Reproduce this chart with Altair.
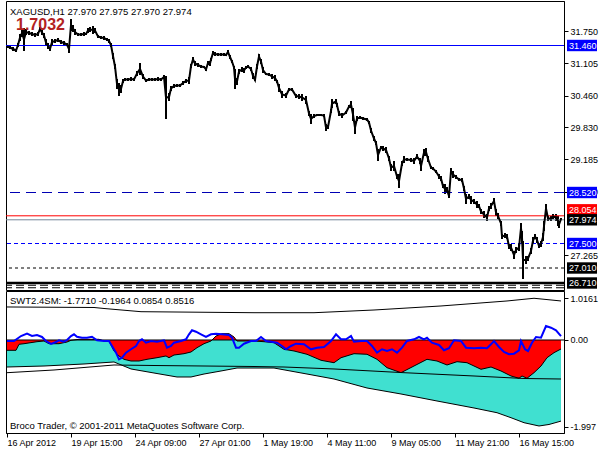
import altair as alt
import pandas as pd

FONT = "Liberation Sans"

# ---------------- price pane (XAGUSD H1, sampled bars) ----------------
bar = [3,6,9,12,14,16,18,20,22,25,28,31,34,36,38,40,42,44,46,48,51,54,57,60,63,65,67,69,71,74,77,80,82,84,86,89,91,94,97,100,
       103,105,107,109,111,113,115,117,119,121,124,127,130,133,136,139,142,145,148,151,154,157,160,162,165,167,170,173,176,179,
       182,185,187,189,191,194,197,200,202,204,206,207,209,211,214,217,220,222,224,226,228,230,231,233,235,238,240,242,244,247,
       249,251,253,255,257,259,262,265,268,271,273,275,278,282,285,288,292,295,298,302,305,307,310,313,317,320,322,324,327,328,
       332,333,335,338,342,345,347,349,351,353,356,359,363,365,367,370,372,374,377,379,382,385,387,390,393,395,398,400,403,407,
       410,413,416,417,420,422,424,427,429,432,435,437,439,441,443,445,447,449,452,455,458,460,462,465,467,470,473,475,477,480,
       483,485,487,490,492,494,497,498,501,503,505,507,510,512,515,517,518,519,522,524,527,529,531,533,535,537,539,540,542,544,
       547,549,552,554,555,557]
high = [31.47,31.45,31.43,31.39,31.51,31.69,31.79,31.81,31.79,31.75,31.73,31.71,31.73,31.83,31.77,31.71,31.59,31.51,31.43,31.59,
        31.59,31.61,31.57,31.55,31.51,31.47,31.99,31.87,31.79,31.71,31.71,31.73,31.71,31.81,31.83,31.85,31.81,31.67,31.65,31.65,
        31.61,31.59,31.51,31.31,31.09,30.79,30.71,30.67,30.79,30.81,30.81,30.83,30.81,30.95,31.11,30.89,30.79,30.81,30.81,30.81,
        30.83,30.81,30.87,30.85,30.51,30.65,30.69,30.69,30.69,30.75,30.79,30.83,31.09,31.23,31.15,31.11,31.07,31.05,31.01,31.15,
        31.15,31.21,31.35,31.33,31.31,31.31,31.31,31.29,31.37,31.27,31.17,31.05,30.99,30.81,30.99,31.03,31.01,31.05,31.07,31.03,
        30.91,30.79,31.09,31.29,31.19,31.03,30.91,30.91,30.89,30.87,30.77,30.69,30.55,30.51,30.61,30.61,30.49,30.49,30.49,30.45,
        30.15,30.09,30.09,30.09,30.09,30.09,29.89,29.87,30.19,30.39,30.39,30.31,30.15,30.11,30.15,30.27,30.35,30.21,29.95,30.05,
        30.05,30.03,30.01,29.95,29.81,29.65,29.55,29.39,29.45,29.45,29.43,29.25,29.09,29.15,28.89,28.89,29.15,29.25,29.21,29.21,
        29.21,29.29,29.21,29.15,29.39,29.41,29.25,29.05,29.03,28.97,28.89,28.85,28.69,28.69,28.63,28.49,29.01,28.95,28.87,28.81,
        28.81,28.65,28.49,28.49,28.45,28.39,28.35,28.29,28.19,28.15,28.09,28.25,28.31,28.41,28.19,28.11,27.95,27.69,27.71,27.69,
        27.49,27.49,27.35,27.43,27.49,27.91,27.75,27.55,27.25,27.25,27.41,27.63,27.69,27.63,27.49,27.55,27.71,27.95,28.29,28.05,
        28.05,28.09,28.09,28.05,27.95,28.01]
low = [31.41,31.39,31.35,31.33,31.43,31.55,31.63,31.35,31.67,31.67,31.65,31.63,31.65,31.75,31.67,31.61,31.45,31.39,31.35,31.47,
       31.51,31.53,31.49,31.47,31.45,31.31,31.75,31.73,31.67,31.65,31.65,31.65,31.67,31.71,31.73,31.69,31.71,31.61,31.59,31.57,
       31.55,31.51,31.43,31.19,30.99,30.59,30.45,30.51,30.71,30.75,30.75,30.75,30.75,30.85,30.87,30.79,30.73,30.75,30.75,30.75,
       30.75,30.75,30.79,29.99,30.35,30.55,30.61,30.63,30.63,30.67,30.71,30.69,31.01,31.13,31.05,31.03,31.01,31.01,30.95,31.07,
       31.05,31.15,31.27,31.25,31.25,31.25,31.25,31.25,31.29,31.19,31.11,30.99,30.59,30.67,30.89,30.93,30.91,30.99,31.01,30.95,
       30.79,30.75,30.99,31.19,31.09,30.91,30.87,30.85,30.79,30.75,30.71,30.53,30.41,30.41,30.55,30.55,30.41,30.39,30.35,30.29,
       30.05,29.89,30.01,30.05,30.05,30.03,29.75,29.79,30.11,30.21,30.29,30.23,30.05,30.01,30.09,30.21,30.21,29.95,29.69,29.95,
       29.99,29.97,29.95,29.89,29.71,29.55,29.47,29.15,29.39,29.35,29.31,29.15,28.95,28.95,28.79,28.61,29.05,29.11,29.15,29.13,
       29.09,29.19,29.09,28.95,29.25,29.25,29.13,28.99,28.97,28.91,28.79,28.75,28.61,28.49,28.51,28.41,28.89,28.81,28.79,28.75,
       28.73,28.55,28.29,28.39,28.29,28.29,28.21,28.21,28.09,28.01,27.95,28.15,28.19,28.29,28.05,27.99,27.85,27.59,27.61,27.59,
       27.39,27.35,27.19,27.31,27.35,27.71,27.49,26.79,27.09,27.15,27.29,27.49,27.59,27.51,27.41,27.43,27.55,27.75,28.11,27.95,
       27.95,27.99,27.95,27.85,27.81,27.97]

level_values = [31.460, 28.520, 28.054, 27.974, 27.500, 27.010, 26.710, 26.665, 26.615]
labelled_levels = [31.460, 28.520, 28.054, 27.974, 27.500, 27.010, 26.710]
price_ticks = [31.750, 31.105, 30.460, 29.830, 29.185, 28.540, 27.265]

header_text = "XAGUSD,H1  27.970 27.975 27.970 27.974"
value_text = "1.7032"

# ---------------- oscillator pane (SWT2.4SM) ----------------
blue_x = [3,10,17,23,28,33,38,42,47,52,55,60,63,67,70,73,78,83,88,93,100,105,108,112,115,118,122,127,132,135,138,142,147,153,
          160,163,167,170,177,182,185,188,192,197,202,207,212,218,225,228,232,235,240,247,252,257,262,267,273,278,282,287,292,
          300,307,313,320,327,332,337,342,347,350,357,363,368,373,378,383,388,393,398,403,410,415,420,423,428,435,440,445,450,
          457,462,470,477,483,487,490,495,500,505,510,515,517,521,524,528,532,537,542,547,552,557]
blue_v = [-0.022,-0.022,0.087,0.138,0.087,0.109,0.066,-0.022,-0.087,-0.044,-0.007,-0.037,0.0,0.087,0.124,0.072,0.05,0.05,0.072,
          -0.007,-0.022,-0.022,-0.131,-0.277,-0.422,-0.387,-0.277,-0.203,-0.131,-0.022,0.015,-0.059,-0.022,-0.037,-0.007,-0.168,
          -0.131,-0.059,-0.022,0.015,0.124,0.212,0.181,0.124,0.066,0.124,0.138,0.124,0.109,0.05,-0.168,-0.168,-0.081,-0.022,
          -0.022,0.066,-0.022,-0.037,-0.059,-0.131,-0.203,-0.131,-0.081,-0.094,-0.203,-0.168,-0.153,-0.022,0.124,0.015,0.015,
          0.087,-0.037,-0.022,-0.022,-0.131,-0.277,-0.203,-0.24,-0.203,-0.277,-0.168,-0.022,0.015,0.066,0.015,0.05,-0.059,
          -0.109,-0.225,-0.181,-0.007,-0.022,-0.168,-0.181,-0.168,-0.181,-0.094,-0.022,-0.153,-0.262,-0.312,-0.299,-0.225,
          -0.022,-0.203,-0.24,-0.059,0.066,0.05,0.306,0.269,0.212,0.085]
red_x = [3,12,15,20,33,40,45,55,63,67,75,85,95,100,105,110,115,120,127,135,143,153,162,165,170,180,187,193,200,207,212,218,
         225,230,233,240,250,260,270,280,290,303,317,330,337,350,363,373,383,397,410,423,433,443,453,463,477,487,497,507,515,
         518,523,530,537,543,550,557]
red_v = [-0.225,-0.225,-0.094,-0.081,-0.037,-0.022,-0.081,-0.081,-0.044,-0.007,0.015,0.015,0.015,-0.022,-0.022,-0.24,-0.349,
         -0.422,-0.459,-0.459,-0.422,-0.387,-0.349,-0.387,-0.328,-0.299,-0.262,-0.168,-0.081,-0.022,0.087,0.138,0.138,0.066,
         -0.022,-0.022,-0.022,-0.037,-0.059,-0.203,-0.24,-0.312,-0.443,-0.496,-0.387,-0.299,-0.312,-0.422,-0.605,-0.714,-0.568,
         -0.422,-0.459,-0.546,-0.474,-0.496,-0.64,-0.59,-0.677,-0.786,-0.836,-0.786,-0.836,-0.714,-0.568,-0.387,-0.277,-0.196]
turq_x = [3,40,80,110,127,150,173,187,200,217,233,270,303,330,363,397,433,470,493,507,520,535,545,557]
turq_v = [-0.59,-0.568,-0.524,-0.48,-0.633,-0.721,-0.808,-0.808,-0.743,-0.677,-0.612,-0.612,-0.743,-0.852,-1.048,-1.179,
          -1.332,-1.485,-1.588,-1.697,-1.806,-1.878,-1.845,-1.771]
mid_x = [3,50,110,150,200,250,280,330,400,470,520,557]
mid_v = [-0.714,-0.655,-0.546,-0.557,-0.568,-0.579,-0.59,-0.633,-0.714,-0.786,-0.841,-0.852]
up_x = [3,90,100,137,250,310,370,437,503,530,557]
up_v = [0.721,0.71,0.688,0.618,0.596,0.596,0.655,0.743,0.852,0.911,0.852]

osc_ticks = [0.917, 0.0, -1.894]
osc_tick_labels = ["1.0161", "0.00", "-1.997"]
osc_text = "SWT2.4SM:  -1.7710 -0.1964 0.0854 0.8516"
copyright_text = "Broco Trader, \u00a9 2001-2011 MetaQuotes Software Corp."

time_ticks = [3, 67, 131, 195, 259, 323, 387, 451, 515]
time_labels = ["16 Apr 2012", "19 Apr 15:00", "24 Apr 09:00", "27 Apr 01:00", "1 May 19:00",
               "4 May 11:00", "9 May 05:00", "11 May 21:00", "16 May 15:00"]

# ---------------- styles ----------------
W, H1, H2 = 558, 289, 142
xs = alt.Scale(domain=[2, 560], nice=False, zero=False)
ys_price = alt.Scale(domain=[26.57, 32.35], nice=False, zero=False)
ys_osc = alt.Scale(domain=[-2.031, 1.07], nice=False, zero=False)

level_styles = [
    dict(color="#0000FF", width=1, dash=None),
    dict(color="#0000B4", width=1, dash=[10, 6]),
    dict(color="#FF0000", width=1, dash=None),
    dict(color="#778899", width=1, dash=None),
    dict(color="#0000FF", width=1, dash=[4, 3]),
    dict(color="#000000", width=1, dash=[3, 3]),
    dict(color="#000000", width=2.5, dash=None),
    dict(color="#000000", width=1, dash=[8, 4]),
    dict(color="#000000", width=1, dash=[8, 4]),
]
label_bg = ["#0000FF", "#0000FF", "#FF0000", "#000000", "#0000FF", "#000000", "#000000"]
label_shift = [0, 0, -6, 0, 0, 0, 0]
BOX = "M-1,-0.38L1,-0.38L1,0.38L-1,0.38Z"


def js_list(items):
    return "[" + ",".join(repr(i) for i in items) + "]"


price_axis = alt.Axis(orient="right", values=price_ticks, format=".3f", title=None,
                      tickSize=4, labelPadding=2, grid=False, labelOverlap=False)


def py(field):
    return alt.Y(field, scale=ys_price, title=None, axis=price_axis)


def px(field):
    return alt.X(field, scale=xs, title=None, axis=None)


# ---------------- price chart ----------------
price_df = pd.DataFrame({"bar": bar, "high": high, "low": low})

bars_layer = alt.Chart(price_df).mark_rule(color="black", strokeWidth=2).encode(
    x=px("bar:Q"), y=py("low:Q"), y2="high:Q",
)
close_layer = alt.Chart(price_df).transform_calculate(
    mid="(datum.high + datum.low) / 2"
).mark_line(color="black", strokeWidth=2).encode(
    x=px("bar:Q"), y=py("mid:Q"),
)

price_layers = [bars_layer]
for val, st in zip(level_values, level_styles):
    kw = dict(color=st["color"], strokeWidth=st["width"])
    if st["dash"]:
        kw["strokeDash"] = st["dash"]
    price_layers.append(
        alt.Chart(pd.DataFrame({"v": [val]})).mark_rule(**kw).encode(y=py("v:Q"))
    )
price_layers.append(close_layer)

for val, bg, sh in zip(labelled_levels, label_bg, label_shift):
    d = pd.DataFrame({"v": [val]})
    price_layers.append(
        alt.Chart(d).mark_point(shape=BOX, size=900, filled=True, opacity=1,
                                color=bg, strokeWidth=0, yOffset=sh).encode(
            x=alt.value(576), y=py("v:Q")
        )
    )
    price_layers.append(
        alt.Chart(d).mark_text(align="left", baseline="middle", color="white",
                               font=FONT, fontSize=9, yOffset=sh).encode(
            x=alt.value(563), y=py("v:Q"),
            text=alt.Text("v:Q", format=".3f"),
        )
    )

price_layers.append(
    alt.Chart(pd.DataFrame({"t": [header_text]})).mark_text(
        align="left", baseline="middle", font=FONT, fontSize=9.5, color="black"
    ).encode(x=alt.value(4), y=alt.value(11), text="t:N")
)
price_layers.append(
    alt.Chart(pd.DataFrame({"t": [value_text]})).mark_text(
        align="left", baseline="middle", font=FONT, fontSize=16, fontWeight="bold", color="#B22222"
    ).encode(x=alt.value(10), y=alt.value(24), text="t:N")
)

price_chart = alt.layer(*price_layers).properties(width=W, height=H1)

# ---------------- oscillator chart ----------------
x_label_expr = js_list(time_labels) + "[indexof(" + js_list(time_ticks) + ", datum.value)]"
y_label_expr = js_list(osc_tick_labels) + "[indexof(" + js_list(osc_ticks) + ", datum.value)]"

time_axis = alt.Axis(values=time_ticks, labelExpr=x_label_expr, title=None, labelAlign="left",
                     labelBaseline="top", labelPadding=1, tickSize=4, labelFlush=False,
                     labelOverlap=False, grid=False)
osc_axis = alt.Axis(orient="right", values=osc_ticks, labelExpr=y_label_expr, title=None,
                    tickSize=4, labelPadding=2, grid=False, labelOverlap=False)

turq_df = pd.DataFrame({"x": turq_x, "v": turq_v})
red_df = pd.DataFrame({"x": red_x, "v": red_v})
blue_df = pd.DataFrame({"x": blue_x, "v": blue_v})
mid_df = pd.DataFrame({"x": mid_x, "v": mid_v})
up_df = pd.DataFrame({"x": up_x, "v": up_v})


def ox():
    return alt.X("x:Q", scale=xs, title=None, axis=time_axis)


def oy():
    return alt.Y("v:Q", scale=ys_osc, title=None, axis=osc_axis)


turq_area = alt.Chart(turq_df).mark_area(color="#40E0D0", opacity=1).encode(
    x=ox(), y=oy(), y2=alt.Y2Datum(0)
)
red_area = alt.Chart(red_df).mark_area(color="#FF0000", opacity=1).encode(
    x=ox(), y=oy(), y2=alt.Y2Datum(0)
)
turq_edge = alt.Chart(turq_df).mark_line(color="black", strokeWidth=1).encode(x=ox(), y=oy())
red_edge = alt.Chart(red_df).mark_line(color="black", strokeWidth=1).encode(x=ox(), y=oy())
zero_rule = alt.Chart(pd.DataFrame({"v": [0.0]})).mark_rule(color="black", strokeWidth=1).encode(y=oy())
mid_line = alt.Chart(mid_df).mark_line(color="black", strokeWidth=1).encode(x=ox(), y=oy())
up_line = alt.Chart(up_df).mark_line(color="black", strokeWidth=1).encode(x=ox(), y=oy())
blue_line = alt.Chart(blue_df).mark_line(color="#0000FF", strokeWidth=2).encode(x=ox(), y=oy())

osc_label = alt.Chart(pd.DataFrame({"t": [osc_text]})).mark_text(
    align="left", baseline="middle", font=FONT, fontSize=9.5, color="black"
).encode(x=alt.value(4), y=alt.value(10), text="t:N")
copy_label = alt.Chart(pd.DataFrame({"t": [copyright_text]})).mark_text(
    align="left", baseline="middle", font=FONT, fontSize=9.5, color="black"
).encode(x=alt.value(4), y=alt.value(134.5), text="t:N")

osc_chart = alt.layer(
    turq_area, red_area, turq_edge, red_edge, zero_rule, mid_line, up_line, blue_line,
    osc_label, copy_label
).properties(width=W, height=H2)

chart = alt.vconcat(price_chart, osc_chart, spacing=1, bounds="flush").properties(
    padding={"left": 2, "top": 0, "right": 0, "bottom": 0}
).configure(background="white").configure_view(
    stroke="black", strokeWidth=1
).configure_axis(
    labelFont=FONT, labelFontSize=9, labelColor="black", tickColor="black",
    domainColor="black", domainWidth=1, tickWidth=1, grid=False
)

chart.save("out.html", embed_options={"renderer": "svg", "actions": False})
